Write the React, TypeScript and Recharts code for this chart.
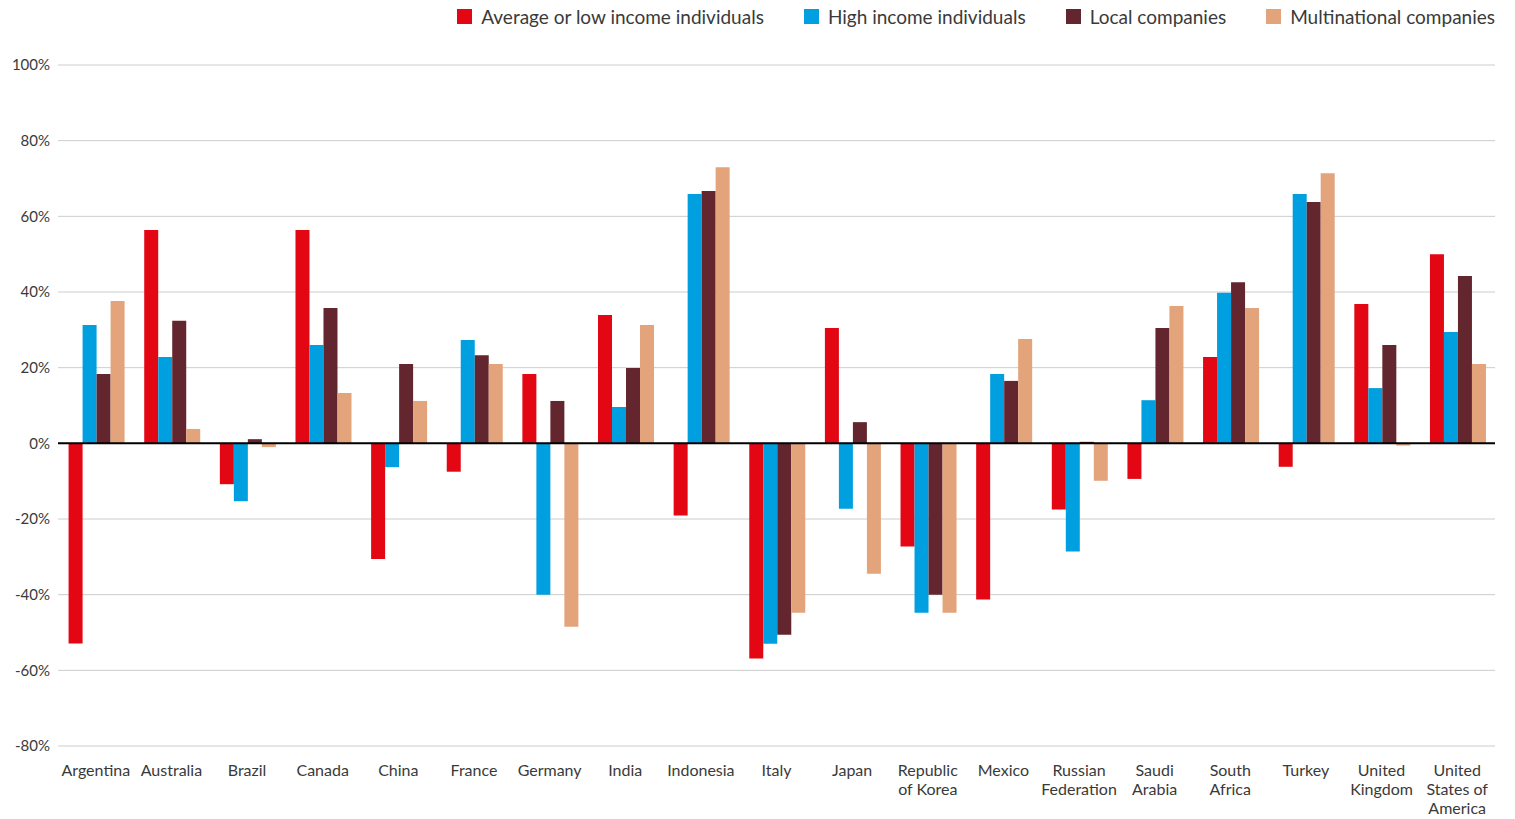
import { BarChart, Bar, XAxis, YAxis, CartesianGrid, ReferenceLine } from "recharts";

const countries = [
  "Argentina",
  "Australia",
  "Brazil",
  "Canada",
  "China",
  "France",
  "Germany",
  "India",
  "Indonesia",
  "Italy",
  "Japan",
  "Republic\nof Korea",
  "Mexico",
  "Russian\nFederation",
  "Saudi\nArabia",
  "South\nAfrica",
  "Turkey",
  "United\nKingdom",
  "United\nStates of\nAmerica",
];

const lowIncome = [-52.9, 56.4, -10.8, 56.4, -30.6, -7.5, 18.3, 33.9, -19.1, -56.9, 30.5, -27.3, -41.3, -17.5, -9.4, 22.8, -6.2, 36.8, 50];
const highIncome = [31.3, 22.8, -15.3, 26, -6.3, 27.3, -40, 9.6, 65.9, -53, -17.3, -44.8, 18.3, -28.6, 11.4, 39.8, 65.9, 14.6, 29.4];
const localCos = [18.3, 32.4, 1.1, 35.8, 21, 23.3, 11.2, 19.9, 66.7, -50.6, 5.6, -40, 16.5, 0.4, 30.5, 42.6, 63.8, 26, 44.2];
const multinationals = [37.6, 3.8, -1, 13.3, 11.2, 21, -48.5, 31.3, 73, -44.8, -34.5, -44.8, 27.6, -9.9, 36.3, 35.8, 71.4, -0.6, 21];

const yTicks = [-80, -60, -40, -20, 0, 20, 40, 60, 80, 100];

const series = [
  { key: "low", name: "Average or low income individuals", color: "#E30613" },
  { key: "high", name: "High income individuals", color: "#009FDF" },
  { key: "local", name: "Local companies", color: "#63262F" },
  { key: "multi", name: "Multinational companies", color: "#E3A37B" },
];

const data = countries.map((name, i) => ({
  name,
  low: lowIncome[i],
  high: highIncome[i],
  local: localCos[i],
  multi: multinationals[i],
}));

const FONT = "Lato, 'Open Sans', sans-serif";
const TEXT = "#3a3a3a";

function CountryTick({ x, y, payload }: any) {
  const lines = String(payload.value).split("\n");
  return (
    <text x={x} y={y} textAnchor="middle" fill={TEXT} fontSize={16} fontFamily={FONT}>
      {lines.map((l, i) => (
        <tspan key={i} x={x} dy={i === 0 ? 30 : 19}>
          {l}
        </tspan>
      ))}
    </text>
  );
}

export default function App() {
  return (
    <div style={{ position: "absolute", left: 0, top: 0, width: 1515, height: 819, background: "#fff" }}>
      {/* legend, top right */}
      <div
        style={{
          position: "absolute",
          top: 5,
          right: 20,
          display: "flex",
          gap: 40,
          fontFamily: FONT,
          fontSize: 19,
          color: TEXT,
          whiteSpace: "nowrap",
        }}
      >
        {series.map((s) => (
          <div key={s.key} style={{ display: "flex", alignItems: "center", gap: 9 }}>
            <span style={{ width: 15, height: 15, background: s.color, display: "inline-block" }} />
            <span>{s.name}</span>
          </div>
        ))}
      </div>

      <BarChart
        width={1515}
        height={819}
        data={data}
        margin={{ top: 65, right: 20, left: 0, bottom: 0 }}
        barCategoryGap="14%"
        barGap={0}
      >
        <CartesianGrid vertical={false} stroke="#cccccc" />
        <XAxis
          dataKey="name"
          interval={0}
          axisLine={false}
          tickLine={false}
          tickSize={0}
          tickMargin={0}
          height={73}
          tick={<CountryTick />}
        />
        <YAxis
          domain={[-80, 100]}
          ticks={yTicks}
          width={58}
          axisLine={false}
          tickLine={false}
          tickSize={0}
          tickMargin={8}
          tickFormatter={(v: number) => `${v}%`}
          tick={{ fill: TEXT, fontSize: 15, fontFamily: FONT }}
        />
        {series.map((s) => (
          <Bar key={s.key} dataKey={s.key} name={s.name} fill={s.color} isAnimationActive={false} />
        ))}
        <ReferenceLine y={0} stroke="#000" strokeWidth={2} />
      </BarChart>
    </div>
  );
}
